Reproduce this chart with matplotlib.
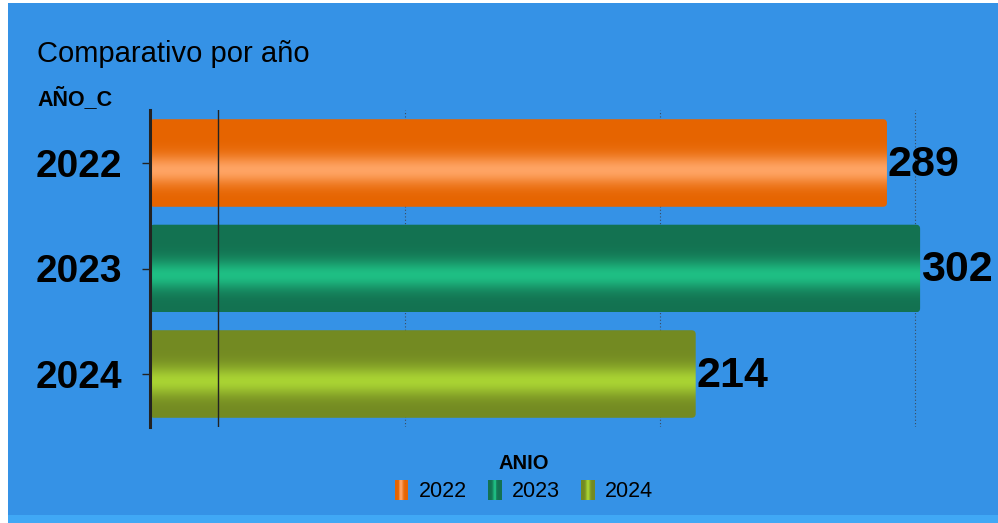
import matplotlib.pyplot as plt
import numpy as np
from matplotlib.patches import FancyBboxPatch, Rectangle, Patch
from matplotlib.legend_handler import HandlerBase
from matplotlib.colors import to_rgb

# ----- data -------------------------------------------------------------------
years = ['2022', '2023', '2024']
counts = [289, 302, 214]
ref_value = 26.7
grid_ticks = [100, 200, 300]

# ----- styles -----------------------------------------------------------------
edge_colors = ['#e66400', '#137251', '#738a22']
center_colors = ['#ffa464', '#1fbf84', '#a9d333']
bg_blue = '#3592e6'
strip_blue = '#40a8f5'
font = 'Liberation Sans'

W, H = 998, 523
fig = plt.figure(figsize=(W / 100, H / 100), dpi=100, facecolor='white')

# background panels
fig.patches.append(Rectangle((8 / W, 0), 1 - 8 / W, 1 - 3 / H, transform=fig.transFigure,
                             facecolor=bg_blue, edgecolor='none', zorder=-10))
fig.patches.append(Rectangle((8 / W, 0), 1 - 8 / W, 8 / H, transform=fig.transFigure,
                             facecolor=strip_blue, edgecolor='none', zorder=-9))

ax = fig.add_axes([150 / W, 1 - 426.75 / H, (992 - 150) / W, 316.5 / H])
ax.set_facecolor('none')

bar_h = 0.83
xmax = (992 - 150) / 2.55


def gradient_colors(edge, center, n=64, peak=0.58):
    e, c = np.array(to_rgb(edge)), np.array(to_rgb(center))
    t = np.linspace(0, 1, n)
    w = np.exp(-((t - peak) / 0.17) ** 2)
    return e[None, :] * (1 - w[:, None]) + c[None, :] * w[:, None]


for i, (v, ec, cc) in enumerate(zip(counts, edge_colors, center_colors)):
    y0 = i - bar_h / 2
    patch = FancyBboxPatch((0, y0), v, bar_h, boxstyle='round,pad=0,rounding_size=1.6',
                           mutation_aspect=0.024, facecolor='none', edgecolor='none', zorder=2)
    ax.add_patch(patch)
    # first row at the top of the bar, light band a little below the middle
    im = ax.imshow(gradient_colors(ec, cc)[:, None, :], extent=(0, v, i + bar_h / 2, y0),
                   origin='upper', aspect='auto', interpolation='bilinear', zorder=2)
    im.set_clip_path(patch)
    ax.annotate(str(v), (v, i), xytext=(0.5, -1.2), textcoords='offset points',
                ha='left', va='center', fontsize=31, fontweight='bold', family=font, zorder=4)

for g in grid_ticks:
    ax.axvline(g, color='#3a4a5e', lw=0.8, ls=(0, (1, 2)), zorder=1)
ax.axvline(ref_value, color='#222222', lw=1.0, zorder=3)

ax.set_xlim(0, xmax)
ax.set_ylim(2.5, -0.5)
ax.set_yticks(range(len(years)))
ax.set_yticklabels(years, fontsize=28, fontweight='bold', family=font)
ax.tick_params(axis='y', length=6, width=1, pad=14, color='#222222')
ax.set_xticks([])
for s in ['top', 'right', 'bottom']:
    ax.spines[s].set_visible(False)
ax.spines['left'].set_linewidth(2.2)
ax.spines['left'].set_color('#222222')

fig.text(37 / W, 1 - 40 / H, 'Comparativo por año', fontsize=21, family=font,
         ha='left', va='top')
fig.text(37 / W, 1 - 87 / H, 'AÑO_C', fontsize=15.5, fontweight='bold', family=font,
         ha='left', va='top')


class GradientSquare(HandlerBase):
    def create_artists(self, legend, orig_handle, xdescent, ydescent, width, height,
                       fontsize, trans):
        n = 14
        cols = gradient_colors(orig_handle.edge, orig_handle.center, n=n, peak=0.5)
        arts = []
        for k in range(n):
            r = Rectangle((-xdescent + width * k / n, -ydescent), width / n * 1.6, height,
                          facecolor=cols[k], edgecolor='none', antialiased=False,
                          transform=trans)
            arts.append(r)
        return arts


handles = []
for ec, cc in zip(edge_colors, center_colors):
    p = Patch(facecolor=ec)
    p.edge, p.center = ec, cc
    handles.append(p)

leg = fig.legend(handles, years, loc='center', bbox_to_anchor=(524 / W, 1 - 478 / H),
                 ncol=3, frameon=False, title='ANIO', handlelength=0.6, handleheight=1.05,
                 handletextpad=0.5, columnspacing=1.0,
                 handler_map={Patch: GradientSquare()},
                 prop={'family': font, 'size': 15.5},
                 title_fontproperties={'family': font, 'size': 14.5, 'weight': 'bold'})
leg._legend_box.sep = 5

fig.savefig('out.png', dpi=100, facecolor=fig.get_facecolor())
